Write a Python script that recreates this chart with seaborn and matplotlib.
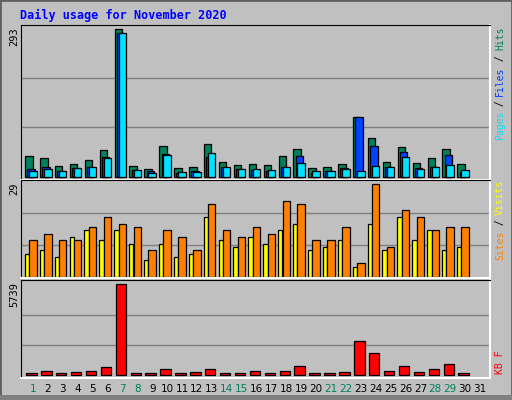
import numpy as np
import pandas as pd
import matplotlib
matplotlib.use("Agg")
import matplotlib.pyplot as plt
import seaborn as sns
from matplotlib.patches import Rectangle

# Data
days = list(range(1, 32))
hits = [41, 37, 21, 25, 33, 53, 293, 21, 15, 61, 17, 19, 65, 29, 23, 25, 23,
        41, 55, 17, 19, 25, 119, 77, 29, 59, 27, 37, 55, 25, 0]
files = [15, 19, 11, 17, 19, 39, 286, 13, 11, 45, 7, 11, 39, 19, 15, 13, 11,
         19, 41, 7, 11, 17, 119, 61, 19, 49, 17, 19, 43, 9, 0]
pages = [11, 15, 11, 17, 19, 37, 286, 13, 7, 43, 9, 9, 47, 19, 15, 15, 13,
         19, 27, 11, 11, 15, 11, 21, 19, 39, 15, 19, 23, 13, 0]
sites = [7, 8, 6, 12, 14, 11, 14, 10, 5, 10, 6, 7, 18, 11, 9, 12, 10,
         14, 16, 8, 9, 11, 3, 16, 8, 18, 11, 14, 8, 9, 0]
visits = [11, 13, 11, 11, 15, 18, 16, 15, 8, 14, 12, 8, 22, 14, 12, 15, 13,
          23, 22, 11, 11, 15, 4, 28, 9, 20, 18, 14, 15, 15, 0]
kbytes = [126, 252, 126, 189, 252, 504, 5739, 126, 126, 378, 126, 189, 378, 126, 126, 252, 126,
          252, 567, 126, 126, 189, 2144, 1387, 252, 567, 189, 378, 693, 126, 0]
weekend = [1, 7, 8, 14, 15, 21, 22, 28, 29]

BG = "#C0C0C0"
W, H = 512, 400
sns.set_style("white")
fig = plt.figure(figsize=(5.12, 4.0), dpi=100, facecolor=BG)


def px_axes(x0, y0, x1, y1):
    return fig.add_axes([x0 / W, 1 - y1 / H, (x1 - x0) / W, (y1 - y0) / H])


def fx(x):
    return x / W


def fy(y):
    return 1 - y / H


# frame bevel
fig.patches.append(Rectangle((0, 0), 1, 1, transform=fig.transFigure, fill=False,
                             edgecolor="#606060", lw=2))
fig.patches.append(Rectangle((0, 0), 1, fy(395), transform=fig.transFigure,
                             facecolor="#808080", edgecolor="none"))

df = pd.DataFrame({"day": days, "hits": hits, "files": files, "pages": pages,
                   "sites": sites, "visits": visits, "kb": kbytes})


def draw(ax, col, off, width, color, ylim, top):
    d = df[df[col] > 0].copy()
    d["x"] = d["day"] + off
    sns.barplot(data=d, x="x", y=col, native_scale=True, width=width, color=color,
                saturation=1, edgecolor="black", linewidth=0.9, ax=ax)
    ax.set_ylim(*ylim)


panels = [
    (25, 180, (-6.5, 301), 293, [("hits", -0.27, 0.5, "#00805C"),
                                ("files", -0.12, 0.5, "#0040FF"),
                                ("pages", 0.0, 0.5, "#00E0FF")]),
    (180, 278, (-0.4, 29.2), 29, [("sites", -0.4, 0.29, "#FFFF00"),
                                  ("visits", 0.0, 0.5, "#FF8000")]),
    (280, 378, (-170, 6010), 5739, [("kb", -0.1, 0.7, "#FF0000")]),
]
for y0, y1, ylim, top, series in panels:
    ax = px_axes(21, y0, 490, y1)
    ax.set_facecolor(BG)
    for frac in (1 / 3, 2 / 3):
        ax.axhline(top * frac, color="#808080", lw=1, zorder=0)
    for col, off, wd, c in series:
        draw(ax, col, off, wd, c, ylim, top)
    ax.set_xlim(0.2, 31.67)
    ax.set_xticks([])
    ax.set_yticks([])
    ax.set_xlabel("")
    ax.set_ylabel("")
    for s in ("left", "top"):
        ax.spines[s].set_color("black")
    for s in ("right", "bottom"):
        ax.spines[s].set_color("white")
        ax.spines[s].set_linewidth(1.5)
    fig.text(fx(14), fy(y0 + 2), str(top), rotation=90, ha="center", va="top",
             fontsize=7.5, family="DejaVu Sans Mono", color="black")

fig.text(fx(20), fy(15), "Daily usage for November 2020", ha="left", va="center",
         fontsize=8.5, fontweight="bold", family="DejaVu Sans Mono", color="#0000FF")


def right_label(y_top, parts):
    cw = 5.6
    y = y_top
    for txt, c in reversed(parts):
        fig.text(fx(500), fy(y), txt, rotation=90, ha="center", va="top",
                 fontsize=7, family="DejaVu Sans Mono", color=c)
        y += cw * len(txt)


right_label(27, [("Pages", "#00E0FF"), (" / ", "black"), ("Files", "#0040FF"),
                 (" / ", "black"), ("Hits", "#00805C")])
right_label(180, [("Sites", "#FF8000"), (" / ", "black"), ("Visits", "#FFFF00")])
right_label(350, [("KB F", "#FF0000")])

for d in days:
    x = 33 + (d - 1) * 14.9
    fig.text(fx(x), fy(389), str(d), ha="center", va="center", fontsize=7.5,
             color="#00805C" if d in weekend else "black")

plt.savefig("out.png", dpi=100, facecolor=BG)
